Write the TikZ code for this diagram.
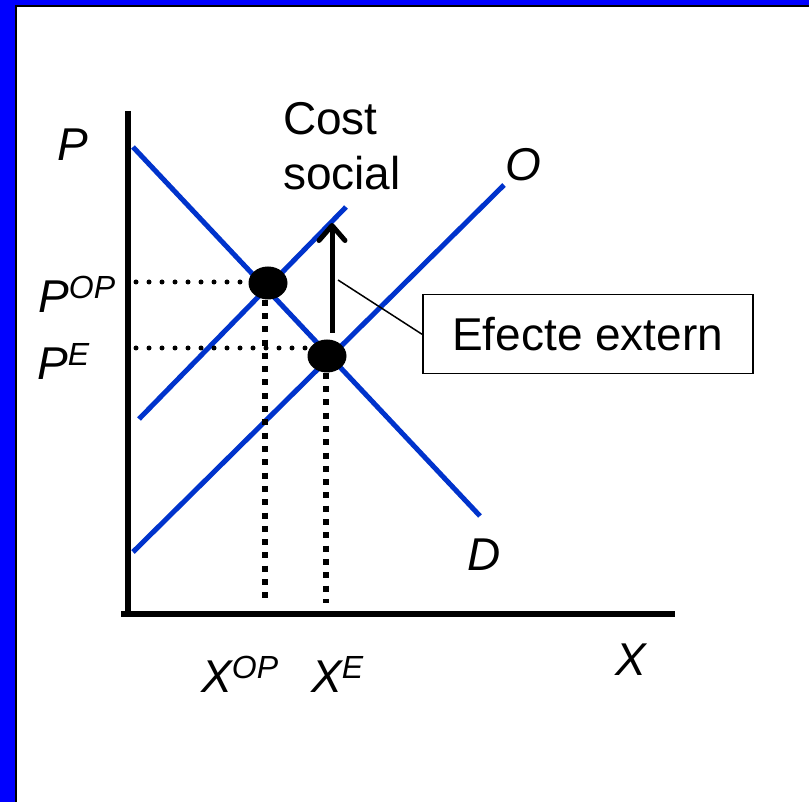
\documentclass[tikz,border=0pt]{standalone}
\usepackage{fontspec}
\setmainfont{Liberation Sans}
\usetikzlibrary{shapes.geometric,arrows.meta}
\definecolor{lineblue}{RGB}{0,51,204}
\definecolor{frameblue}{RGB}{0,0,255}
\newcommand\suplbl[1]{\raisebox{14pt}{\fontsize{32}{32}\selectfont #1}}
\begin{document}
\begin{tikzpicture}[x=1pt,y=-1pt,
  lbl/.style={inner sep=0pt, anchor=base west, font=\fontsize{46}{55}\selectfont},
  curve/.style={draw=lineblue, line width=5pt},
  axisline/.style={line width=6pt, draw=black},
  bigdot/.style={ellipse, fill=black, minimum width=39pt, minimum height=33pt, inner sep=0pt},
  hdots/.style={line width=5pt, line cap=round, dash pattern=on 0pt off 13pt},
  vdots/.style={line width=6pt, dash pattern=on 6pt off 7.3pt},
  thinline/.style={line width=1.5pt, draw=black},
  calloutbox/.style={draw=black, line width=1.5pt, minimum width=330pt, minimum height=79pt,
    inner sep=0pt, font=\fontsize{46}{55}\selectfont},
  arrowline/.style={line width=5pt, -{Straight Barb[length=15pt,width=26pt,line cap=round,line join=round]}}
]
\useasboundingbox (0,0) rectangle (809,802);
\fill[white] (0,0) rectangle (809,802);
% frame
\fill[frameblue] (0,0) rectangle (15,802);
\fill[frameblue] (0,0) rectangle (809,5);
\draw[line width=2pt] (16,802) -- (16,6) -- (809,6);
% axes
\coordinate (yt) at (128,111);
\coordinate (yb) at (128,617);
\coordinate (xl) at (121,614);
\coordinate (xr) at (675,614);
\draw[axisline] (yt) -- (yb);
\draw[axisline] (xl) -- (xr);
% curves
\coordinate (dA) at (133,147);
\coordinate (dB) at (480,516);
\coordinate (oA) at (133,552);
\coordinate (oB) at (504,185);
\coordinate (sA) at (139,419);
\coordinate (sB) at (346,207);
\draw[curve] (dA) -- (dB);
\draw[curve] (oA) -- (oB);
\draw[curve] (sA) -- (sB);
% arrow (external effect)
\coordinate (arrb) at (332,333);
\coordinate (arrt) at (332,223);
\draw[arrowline] (arrb) -- (arrt);
% equilibrium points
\node[bigdot] (op) at (268,283) {};
\node[bigdot] (e) at (327,356) {};
% dotted guides
\coordinate (pop) at (136,282);
\coordinate (pe) at (136,348);
\coordinate (xop) at (265,603);
\coordinate (xe) at (326,603);
\draw[hdots] (pop) -- (pop -| op.west);
\draw[hdots] (pe) -- (pe -| e.west);
\draw[vdots] (op.south -| xop) -- (xop);
\draw[vdots] (e.south -| xe) -- (xe);
% callout
\node[calloutbox, anchor=north west] (ee) at (422,294) {Efecte extern};
\coordinate (cl) at (338,280);
\draw[thinline] (cl) -- (ee.west);
% labels
\node[lbl] (lp) at (57,161) {\itshape P};
\node[lbl] (lpop) at (38,313) {\itshape P\suplbl{OP}};
\node[lbl] (lpe) at (37,380) {\itshape P\suplbl{E}};
\node[lbl, align=left] (lcs) at (283,190) {Cost\\social};
\node[lbl] (lo) at (505,181) {\itshape O};
\node[lbl] (ld) at (467,570) {\itshape D};
\node[lbl] (lx) at (615,675) {\itshape X};
\node[lbl] (lxop) at (201,692) {\itshape X\suplbl{OP}};
\node[lbl] (lxe) at (311,692) {\itshape X\suplbl{E}};
\end{tikzpicture}
\end{document}
